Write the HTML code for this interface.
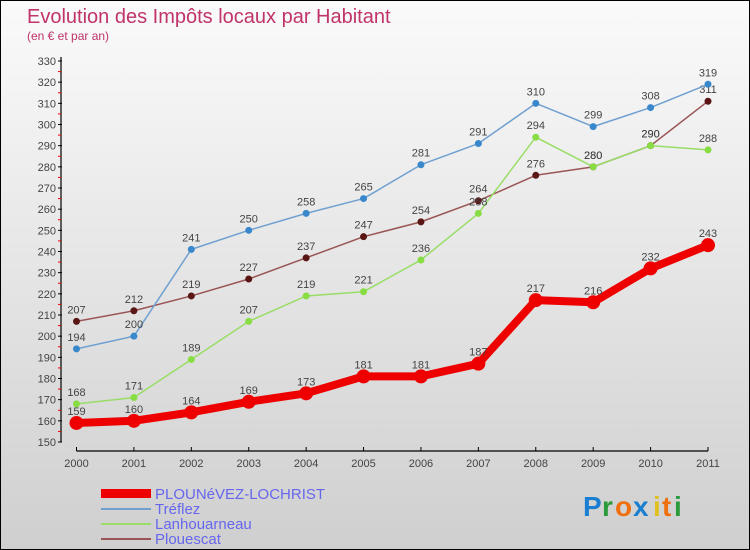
<!DOCTYPE html>
<html><head><meta charset="utf-8"><style>
body{margin:0}
#c{width:750px;height:550px;position:relative;box-sizing:border-box;border:1px solid #000;background:linear-gradient(#fafafa,#f2f2f2 20%,#cfcfcf);font-family:"Liberation Sans",sans-serif;overflow:hidden}
</style></head><body>
<div id="c">
<svg id="s" width="750" height="550" style="position:absolute;left:0;top:0">
<text x="26" y="22" font-size="20" fill="#c0336b">Evolution des Impôts locaux par Habitant</text>
<text x="26" y="39" font-size="12" fill="#c0336b">(en € et par an)</text>
<g id="g"></g>
<g>
<rect x="100" y="488" width="50" height="9" fill="#ee0000"/>
<text x="154" y="498" font-size="15" fill="#6666ee">PLOUNéVEZ-LOCHRIST</text>
<line x1="100" y1="508" x2="150" y2="508" stroke="#6fa0d0" stroke-width="2"/>
<text x="154" y="513" font-size="15" fill="#6666ee">Tréflez</text>
<line x1="100" y1="523" x2="150" y2="523" stroke="#99dd66" stroke-width="2"/>
<text x="154" y="528" font-size="15" fill="#6666ee">Lanhouarneau</text>
<line x1="100" y1="538" x2="150" y2="538" stroke="#955" stroke-width="2"/>
<text x="154" y="543" font-size="15" fill="#6666ee">Plouescat</text>
</g>
<g font-size="28" font-weight="bold">
<text x="582" y="515" fill="#1a7fd0">P</text><text x="601" y="515" fill="#2a9a3a">r</text><text x="614" y="515" fill="#f07010">o</text><text x="632" y="515" fill="#1a7fd0">x</text><text x="652" y="515" fill="#e0c020">i</text><text x="661" y="515" fill="#f07010">t</text><text x="673" y="515" fill="#2a9a3a">i</text>
</g>
</svg>
</div>
<script>
const years=[2000,2001,2002,2003,2004,2005,2006,2007,2008,2009,2010,2011];
const yTicks=[150,160,170,180,190,200,210,220,230,240,250,260,270,280,290,300,310,320,330];
const plounevez=[159,160,164,169,173,181,181,187,217,216,232,243];
const treflez=[194,200,241,250,258,265,281,291,310,299,308,319];
const lanhouarneau=[168,171,189,207,219,221,236,258,294,280,290,288];
const plouescat=[207,212,219,227,237,247,254,264,276,280,290,311];
const NS="http://www.w3.org/2000/svg";
const g=document.getElementById('g');
const X=i=>75.5+i*(707-75.5)/(years.length-1);
const Y=v=>441-(v-150)*(381/180);
function mk(t,a,p){const e=document.createElementNS(NS,t);for(const k in a)e.setAttribute(k,a[k]);(p||g).appendChild(e);return e;}
// axes
const ax=mk('line',{x1:60,y1:56,x2:60,y2:441,stroke:'#000','stroke-width':1.2});


const bx=mk('line',{x1:75.5,y1:450,x2:707,y2:450,stroke:'#000','stroke-width':1.2});


yTicks.forEach(v=>{
  mk('line',{x1:57,y1:Y(v),x2:61,y2:Y(v),stroke:'#000'});
  if(v<330)mk('line',{x1:57,y1:Y(v+5),x2:60,y2:Y(v+5),stroke:'#e00'});
  const t=mk('text',{x:55,y:Y(v)+4,'font-size':11,fill:'#444','text-anchor':'end'});
  t.textContent=v;
  
  
});
years.forEach((y,i)=>{
  mk('line',{x1:X(i),y1:446,x2:X(i),y2:450,stroke:'#000'});
  const t=mk('text',{x:X(i),y:466,'font-size':11,fill:'#444','text-anchor':'middle'});
  t.textContent=y;
  
  
});
function series(d,col,w,r,dot,name){
  const pl=mk('polyline',{points:d.map((v,i)=>X(i)+','+Y(v)).join(' '),fill:'none',stroke:col,'stroke-width':w,'stroke-linejoin':'round'});
  
  
  d.forEach((v,i)=>{
    const c=mk('circle',{cx:X(i),cy:Y(v),r:r,fill:dot});
    
    
    const t=mk('text',{x:X(i),y:Y(v)-8,'font-size':11,fill:'#444','text-anchor':'middle'});
    t.textContent=v;
    
    
  });
}
series(plouescat,'#955',1.5,3.5,'#5a1515','plouescat');
series(lanhouarneau,'#99dd66',1.5,3.5,'#88dd44','lanhouarneau');
series(treflez,'#6fa0d0',1.5,3.5,'#3a88cc','treflez');
series(plounevez,'#ee0000',8,7,'#ee0000','plounevez');
</script>
</body></html>
